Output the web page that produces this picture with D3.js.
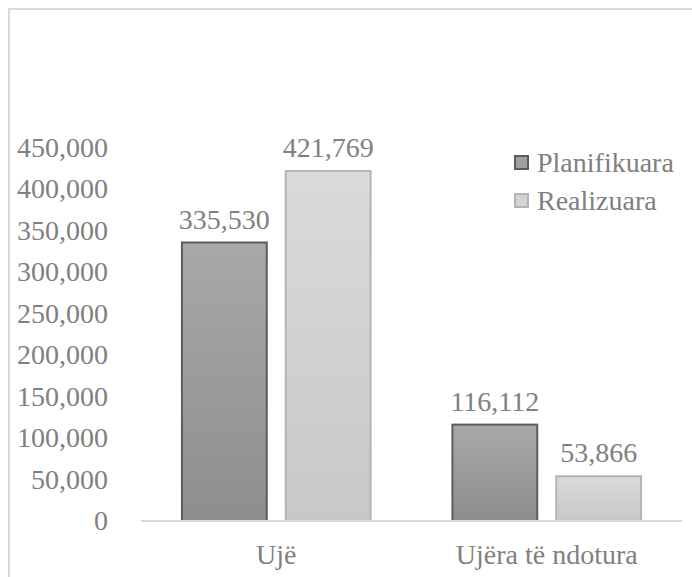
<!DOCTYPE html>
<html lang="sq">
<head>
    <meta charset="utf-8">
    <title>Planifikuara vs Realizuara</title>
    <script src="https://cdn.jsdelivr.net/npm/d3@7"></script>
    <style>
        body { margin: 0; background: #fff; }
    </style>
</head>
<body>
<div id="chart"></div>
<script>
    // data
    const categories = ["Ujë", "Ujëra të ndotura"];
    const series = ["Planifikuara", "Realizuara"];
    const planned = [335530, 116112];
    const realized = [421769, 53866];
    const yTicks = [0, 50000, 100000, 150000, 200000, 250000, 300000, 350000, 400000, 450000];

    const W = 692, H = 577;
    const plot = {left: 141, right: 682, top: 147.5, bottom: 521};
    const font = "'Liberation Serif', 'Times New Roman', serif";
    const fontSize = "28px";
    const textColor = "#808080";

    const svg = d3.select("#chart").append("svg")
        .attr("width", W)
        .attr("height", H);

    // gradients for the bars
    const defs = svg.append("defs");
    const grads = [
        {id: "g0", top: "#a8a8a8", bottom: "#8e8e8e"},
        {id: "g1", top: "#dadada", bottom: "#c8c8c8"}
    ];
    grads.forEach(g => {
        const lg = defs.append("linearGradient")
            .attr("id", g.id)
            .attr("x1", 0).attr("y1", 0).attr("x2", 0).attr("y2", 1);
        lg.append("stop").attr("offset", "0%").attr("stop-color", g.top);
        lg.append("stop").attr("offset", "100%").attr("stop-color", g.bottom);
    });
    const fills = ["url(#g0)", "url(#g1)"];
    const strokes = ["#5c5c5c", "#b4b4b4"];
    const legendFills = ["#a0a0a0", "#d4d4d4"];

    // helper: apply the chart's text style
    function styleText(sel) {
        sel.style("font-family", font)
            .style("font-size", fontSize)
            .style("fill", textColor);
    }

    // chart border (right and bottom edges fall outside the picture)
    svg.append("rect")
        .attr("x", 9).attr("y", 9)
        .attr("width", W + 10).attr("height", H + 10)
        .attr("fill", "none")
        .attr("stroke", "#d9d9d9")
        .attr("stroke-width", 2);

    // scales
    const x0 = d3.scaleBand()
        .domain(categories)
        .range([plot.left, plot.right])
        .paddingInner(0.3026)
        .paddingOuter(0.1513);

    const x1 = d3.scaleBand()
        .domain(series)
        .range([0, x0.bandwidth()])
        .paddingInner(0.1827);

    const y = d3.scaleLinear()
        .domain([0, 450000])
        .range([plot.bottom, plot.top]);

    // y axis labels (no line, no ticks)
    const yAxis = svg.append("g")
        .attr("transform", "translate(108,0)")
        .call(d3.axisLeft(y).tickValues(yTicks).tickSize(0).tickPadding(0)
            .tickFormat(d3.format(",")));
    yAxis.select(".domain").remove();
    yAxis.selectAll("text").call(styleText);

    // bars
    const rows = categories.map((c, i) => ({cat: c, values: [planned[i], realized[i]]}));

    const groups = svg.append("g")
        .selectAll("g")
        .data(rows)
        .enter()
        .append("g")
            .attr("transform", d => "translate(" + x0(d.cat) + ",0)");

    groups.selectAll("rect")
        .data(d => d.values.map((v, j) => ({s: series[j], v: v, j: j})))
        .enter()
        .append("rect")
            .attr("x", d => x1(d.s))
            .attr("y", d => y(d.v))
            .attr("width", x1.bandwidth())
            .attr("height", d => y(0) - y(d.v))
            .attr("fill", d => fills[d.j])
            .attr("stroke", d => strokes[d.j])
            .attr("stroke-width", 2);

    // value labels
    groups.selectAll("text.val")
        .data(d => d.values.map((v, j) => ({s: series[j], v: v})))
        .enter()
        .append("text")
            .attr("class", "val")
            .attr("x", d => x1(d.s) + x1.bandwidth() / 2)
            .attr("y", d => y(d.v) - 14)
            .attr("text-anchor", "middle")
            .call(styleText)
            .text(d => d3.format(",")(d.v));

    // x axis line
    svg.append("line")
        .attr("x1", plot.left).attr("x2", plot.right)
        .attr("y1", plot.bottom).attr("y2", plot.bottom)
        .attr("stroke", "#d9d9d9")
        .attr("stroke-width", 2);

    // category labels
    svg.append("g")
        .selectAll("text")
        .data(categories)
        .enter()
        .append("text")
            .attr("x", d => x0(d) + x0.bandwidth() / 2)
            .attr("y", 564)
            .attr("text-anchor", "middle")
            .call(styleText)
            .text(d => d);

    // legend
    const legend = svg.append("g").attr("transform", "translate(514,162)");
    const items = legend.selectAll("g")
        .data(series)
        .enter()
        .append("g")
            .attr("transform", (d, i) => "translate(0," + i * 38 + ")");

    items.append("rect")
        .attr("x", 1).attr("y", -6)
        .attr("width", 13).attr("height", 13)
        .attr("fill", (d, i) => legendFills[i])
        .attr("stroke", (d, i) => strokes[i])
        .attr("stroke-width", 2);

    items.append("text")
        .attr("x", 23)
        .attr("y", 0)
        .attr("dy", "0.35em")
        .call(styleText)
        .text(d => d);
</script>
</body>
</html>
